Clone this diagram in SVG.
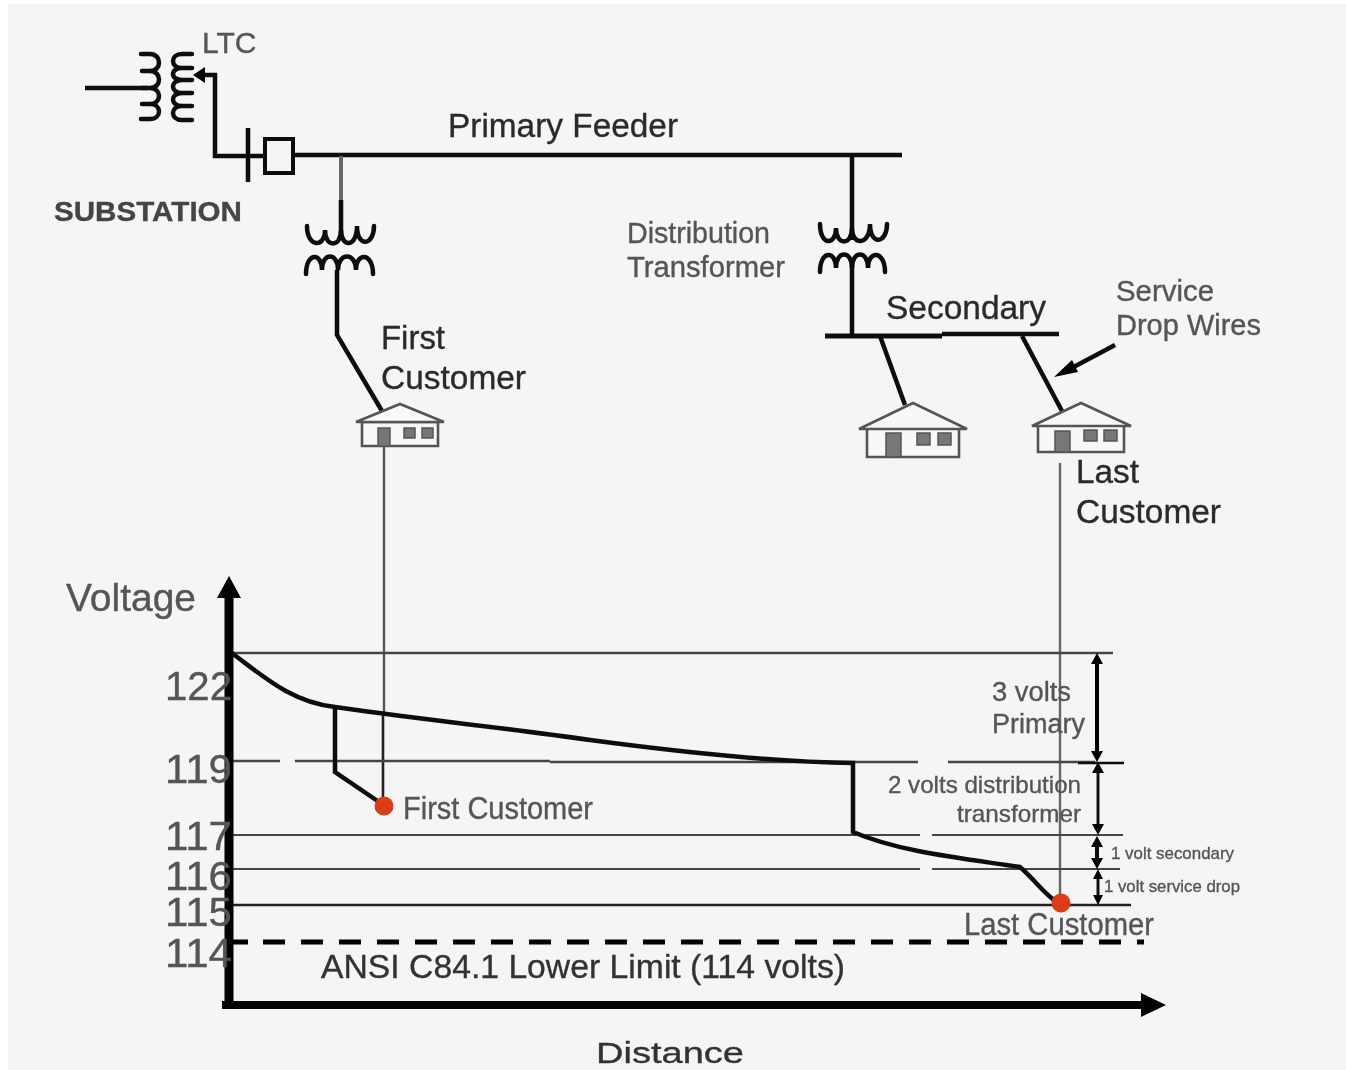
<svg xmlns="http://www.w3.org/2000/svg" width="1346" height="1070" viewBox="0 0 1346 1070">
<style>
text{font-family:"Liberation Sans",Arial,sans-serif;fill:#555;stroke:#555;stroke-width:.35}
.d{fill:#2a2a2a;stroke:#2a2a2a}
.e{fill:#333;stroke:#333}
.b{font-weight:bold;fill:#444;stroke:#444}
.l{fill:none;stroke:#111;stroke-width:4.5;stroke-linejoin:miter}
.c{fill:none;stroke:#111;stroke-width:4.5;stroke-linecap:round}
.g{fill:none;stroke:#444;stroke-width:2.6}
.m{fill:none;stroke:#444;stroke-width:2.2}
.h{fill:#f8f8f8;stroke:#555;stroke-width:2.6}
.w{fill:#777;stroke:#555;stroke-width:1.5}
.a{fill:#000}
</style>
<defs>
<filter id="soft" x="-2%" y="-2%" width="104%" height="104%"><feGaussianBlur stdDeviation="0.6"/></filter>
</defs>
<rect width="1346" height="1070" fill="#fff"/>
<rect x="8" y="4" width="1338" height="1066" fill="#f5f5f5"/>
<g filter="url(#soft)">
<g id="connectors">
<path class="l" d="M85 88H148"/>
<path class="l" d="M200 75H215V156H263"/>
<path class="a" d="M193 75L205 67V83Z"/>
<path class="l" d="M248 128V182"/>
<path class="l" d="M293 155H902"/>
<path d="M341 156V200" fill="none" stroke="#666" stroke-width="4"/>
<path class="l" d="M341 200V240"/>
<path class="l" d="M337 270V335L382 411"/>
<path class="l" d="M852 156V240"/>
<path class="l" d="M852 262V335"/>
<path d="M825 336H942" fill="none" stroke="#111" stroke-width="5"/>
<path class="l" d="M942 334H1059"/>
<path class="l" d="M880 336L905 405"/>
<path class="l" d="M1022 336L1062 411"/>
<path class="l" d="M1115 345L1068 370"/>
<path class="a" d="M1054 377L1072 360L1078 372Z"/>
<path d="M384 447V716" fill="none" stroke="#555" stroke-width="2.4"/>
<path d="M383 712V800" fill="none" stroke="#222" stroke-width="2.6"/>
<path d="M1060 463V903" fill="none" stroke="#666" stroke-width="2.4"/>
<path class="g" d="M229 653H1113"/>
<path class="g" d="M229 761H280M295 761H550"/>
<path class="g" d="M550 762H918M948 762H1095"/>
<path class="l" d="M1078 763H1124" style="stroke-width:2.6"/>
<path class="m" d="M229 835H920M932 835H1123"/>
<path class="m" d="M229 869H920M932 869H1120"/>
<path class="g" d="M229 905H1131" style="stroke:#222"/>
<path d="M229 942H248" fill="none" stroke="#000" stroke-width="5"/>
<path d="M263 942H1144" fill="none" stroke="#000" stroke-width="5" stroke-dasharray="22 16"/>
<path class="l" d="M229 651C262 675 290 702 335 707C400 717 500 727 590 740C680 752 770 762 853 763V832C900 852 960 858 1020 867C1035 880 1045 895 1058 903"/>
<path class="l" d="M335 707V772L382 804"/>
<path d="M229 1008V596" fill="none" stroke="#000" stroke-width="9"/>
<path class="a" d="M229 576L241 598H217Z"/>
<path d="M222 1005H1145" fill="none" stroke="#000" stroke-width="8"/>
<path class="a" d="M1166 1005L1141 993V1017Z"/>
<path d="M1097 660V755" fill="none" stroke="#000" stroke-width="4"/>
<path class="a" d="M1097 653L1103 664H1091ZM1097 762L1103 751H1091Z"/>
<path class="l" d="M1098 768V828" style="stroke-width:3"/>
<path class="a" d="M1098 762L1104 773H1092ZM1098 835L1104 824H1092Z"/>
<path class="l" d="M1097 840V864" style="stroke-width:4"/>
<path class="a" d="M1097 836L1103 847H1091ZM1097 869L1103 858H1091Z"/>
<path class="l" d="M1098 875V900" style="stroke-width:3"/>
<path class="a" d="M1098 869L1103 879H1093ZM1098 905L1103 895H1093Z"/>
</g>
<g id="substation-transformer">
<path class="c" d="M141 54H150C162 54 162 71 150 71H142M150 71C162 71 162 88 150 88H142M150 88C162 88 162 104 150 104H142M150 104C162 104 162 119 150 119H141"/>
<path class="c" d="M192 54H182C170 54 170 68 182 68H192M182 68C170 68 170 80 182 80H192M182 80C170 80 170 93 182 93H192M182 93C170 93 170 106 182 106H192M182 106C170 106 170 120 182 120H192"/>
</g>
<g id="breaker"><rect x="265" y="139" width="28" height="34" fill="#f5f5f5" stroke="#111" stroke-width="4"/></g>
<g id="distribution-transformer-1">
<path class="c" d="M307 226C307 248 325 248 325 230C325 248 341 248 341 230C341 248 357 248 357 226C357 248 374 246 374 226"/>
<path class="c" d="M306 274C306 252 322 252 322 270C322 252 338 252 338 270C338 252 356 252 356 270C356 252 373 252 373 274"/>
</g>
<g id="distribution-transformer-2">
<path class="c" d="M820 224C820 246 836 246 836 228C836 246 852 246 852 228C852 246 870 246 870 224C870 246 887 244 887 224"/>
<path class="c" d="M820 272C820 250 836 250 836 268C836 250 852 250 852 268C852 250 868 250 868 268C868 250 885 250 885 272"/>
</g>
<g id="house-first">
<path class="h" d="M362 422H438V446H362Z"/>
<path class="h" d="M356 422L400 404L444 422Z"/>
<rect class="w" x="378" y="428" width="12" height="18"/>
<rect class="w" x="404" y="428" width="11" height="10"/>
<rect class="w" x="422" y="428" width="11" height="10"/>
</g>
<g id="house-middle">
<path class="h" d="M867 428H959V457H867Z"/>
<path class="h" d="M859 429L913 403L967 429Z"/>
<rect class="w" x="886" y="433" width="15" height="24"/>
<rect class="w" x="917" y="433" width="13" height="12"/>
<rect class="w" x="938" y="433" width="13" height="12"/>
</g>
<g id="house-last">
<path class="h" d="M1038 425H1124V452H1038Z"/>
<path class="h" d="M1032 426L1081 403L1131 426Z"/>
<rect class="w" x="1055" y="431" width="15" height="21"/>
<rect class="w" x="1084" y="430" width="13" height="11"/>
<rect class="w" x="1104" y="430" width="13" height="11"/>
</g>
<g id="first-customer-point"><circle cx="384" cy="806" r="9.5" fill="#dc3c14"/></g>
<g id="last-customer-point"><circle cx="1061" cy="903" r="9.5" fill="#dc3c14"/></g>
<g id="labels">
<text x="202" y="53" font-size="30">LTC</text>
<text class="b" x="54" y="221" font-size="28" textLength="188" lengthAdjust="spacingAndGlyphs">SUBSTATION</text>
<text class="d" x="448" y="137" font-size="33" textLength="230" lengthAdjust="spacingAndGlyphs">Primary Feeder</text>
<text x="627" y="243" font-size="29" textLength="143" lengthAdjust="spacingAndGlyphs">Distribution</text>
<text x="627" y="277" font-size="29" textLength="158" lengthAdjust="spacingAndGlyphs">Transformer</text>
<text class="d" x="886" y="319" font-size="33" textLength="160" lengthAdjust="spacingAndGlyphs">Secondary</text>
<text x="1116" y="301" font-size="29" textLength="98" lengthAdjust="spacingAndGlyphs">Service</text>
<text x="1116" y="335" font-size="29" textLength="145" lengthAdjust="spacingAndGlyphs">Drop Wires</text>
<text class="d" x="381" y="349" font-size="33" textLength="64" lengthAdjust="spacingAndGlyphs">First</text>
<text class="d" x="381" y="389" font-size="34" textLength="145" lengthAdjust="spacingAndGlyphs">Customer</text>
<text class="d" x="1076" y="483" font-size="33" textLength="63" lengthAdjust="spacingAndGlyphs">Last</text>
<text class="d" x="1076" y="523" font-size="34" textLength="145" lengthAdjust="spacingAndGlyphs">Customer</text>
<text x="66" y="611" font-size="38" textLength="130" lengthAdjust="spacingAndGlyphs">Voltage</text>
<text x="165" y="700" font-size="40" textLength="67" lengthAdjust="spacingAndGlyphs">122</text>
<text x="165" y="783" font-size="40" textLength="67" lengthAdjust="spacingAndGlyphs">119</text>
<text x="165" y="850" font-size="40" textLength="67" lengthAdjust="spacingAndGlyphs">117</text>
<text x="165" y="890" font-size="40" textLength="67" lengthAdjust="spacingAndGlyphs">116</text>
<text x="165" y="926" font-size="40" textLength="67" lengthAdjust="spacingAndGlyphs">115</text>
<text x="165" y="967" font-size="40" textLength="67" lengthAdjust="spacingAndGlyphs">114</text>
<text x="992" y="701" font-size="27" textLength="79" lengthAdjust="spacingAndGlyphs">3 volts</text>
<text x="992" y="733" font-size="27" textLength="93" lengthAdjust="spacingAndGlyphs">Primary</text>
<text x="888" y="793" font-size="24" textLength="193" lengthAdjust="spacingAndGlyphs">2 volts distribution</text>
<text x="957" y="822" font-size="24" textLength="124" lengthAdjust="spacingAndGlyphs">transformer</text>
<text x="403" y="819" font-size="31" textLength="190" lengthAdjust="spacingAndGlyphs">First Customer</text>
<text x="964" y="935" font-size="31" textLength="190" lengthAdjust="spacingAndGlyphs">Last Customer</text>
<text x="1111" y="859" font-size="17" textLength="123" lengthAdjust="spacingAndGlyphs">1 volt secondary</text>
<text x="1104" y="892" font-size="17" textLength="136" lengthAdjust="spacingAndGlyphs">1 volt service drop</text>
<text class="e" x="321" y="978" font-size="33.5" textLength="524" lengthAdjust="spacingAndGlyphs">ANSI C84.1 Lower Limit (114 volts)</text>
<text class="e" x="596" y="1063" font-size="30" textLength="148" lengthAdjust="spacingAndGlyphs">Distance</text>
</g>
</g>
</svg>
